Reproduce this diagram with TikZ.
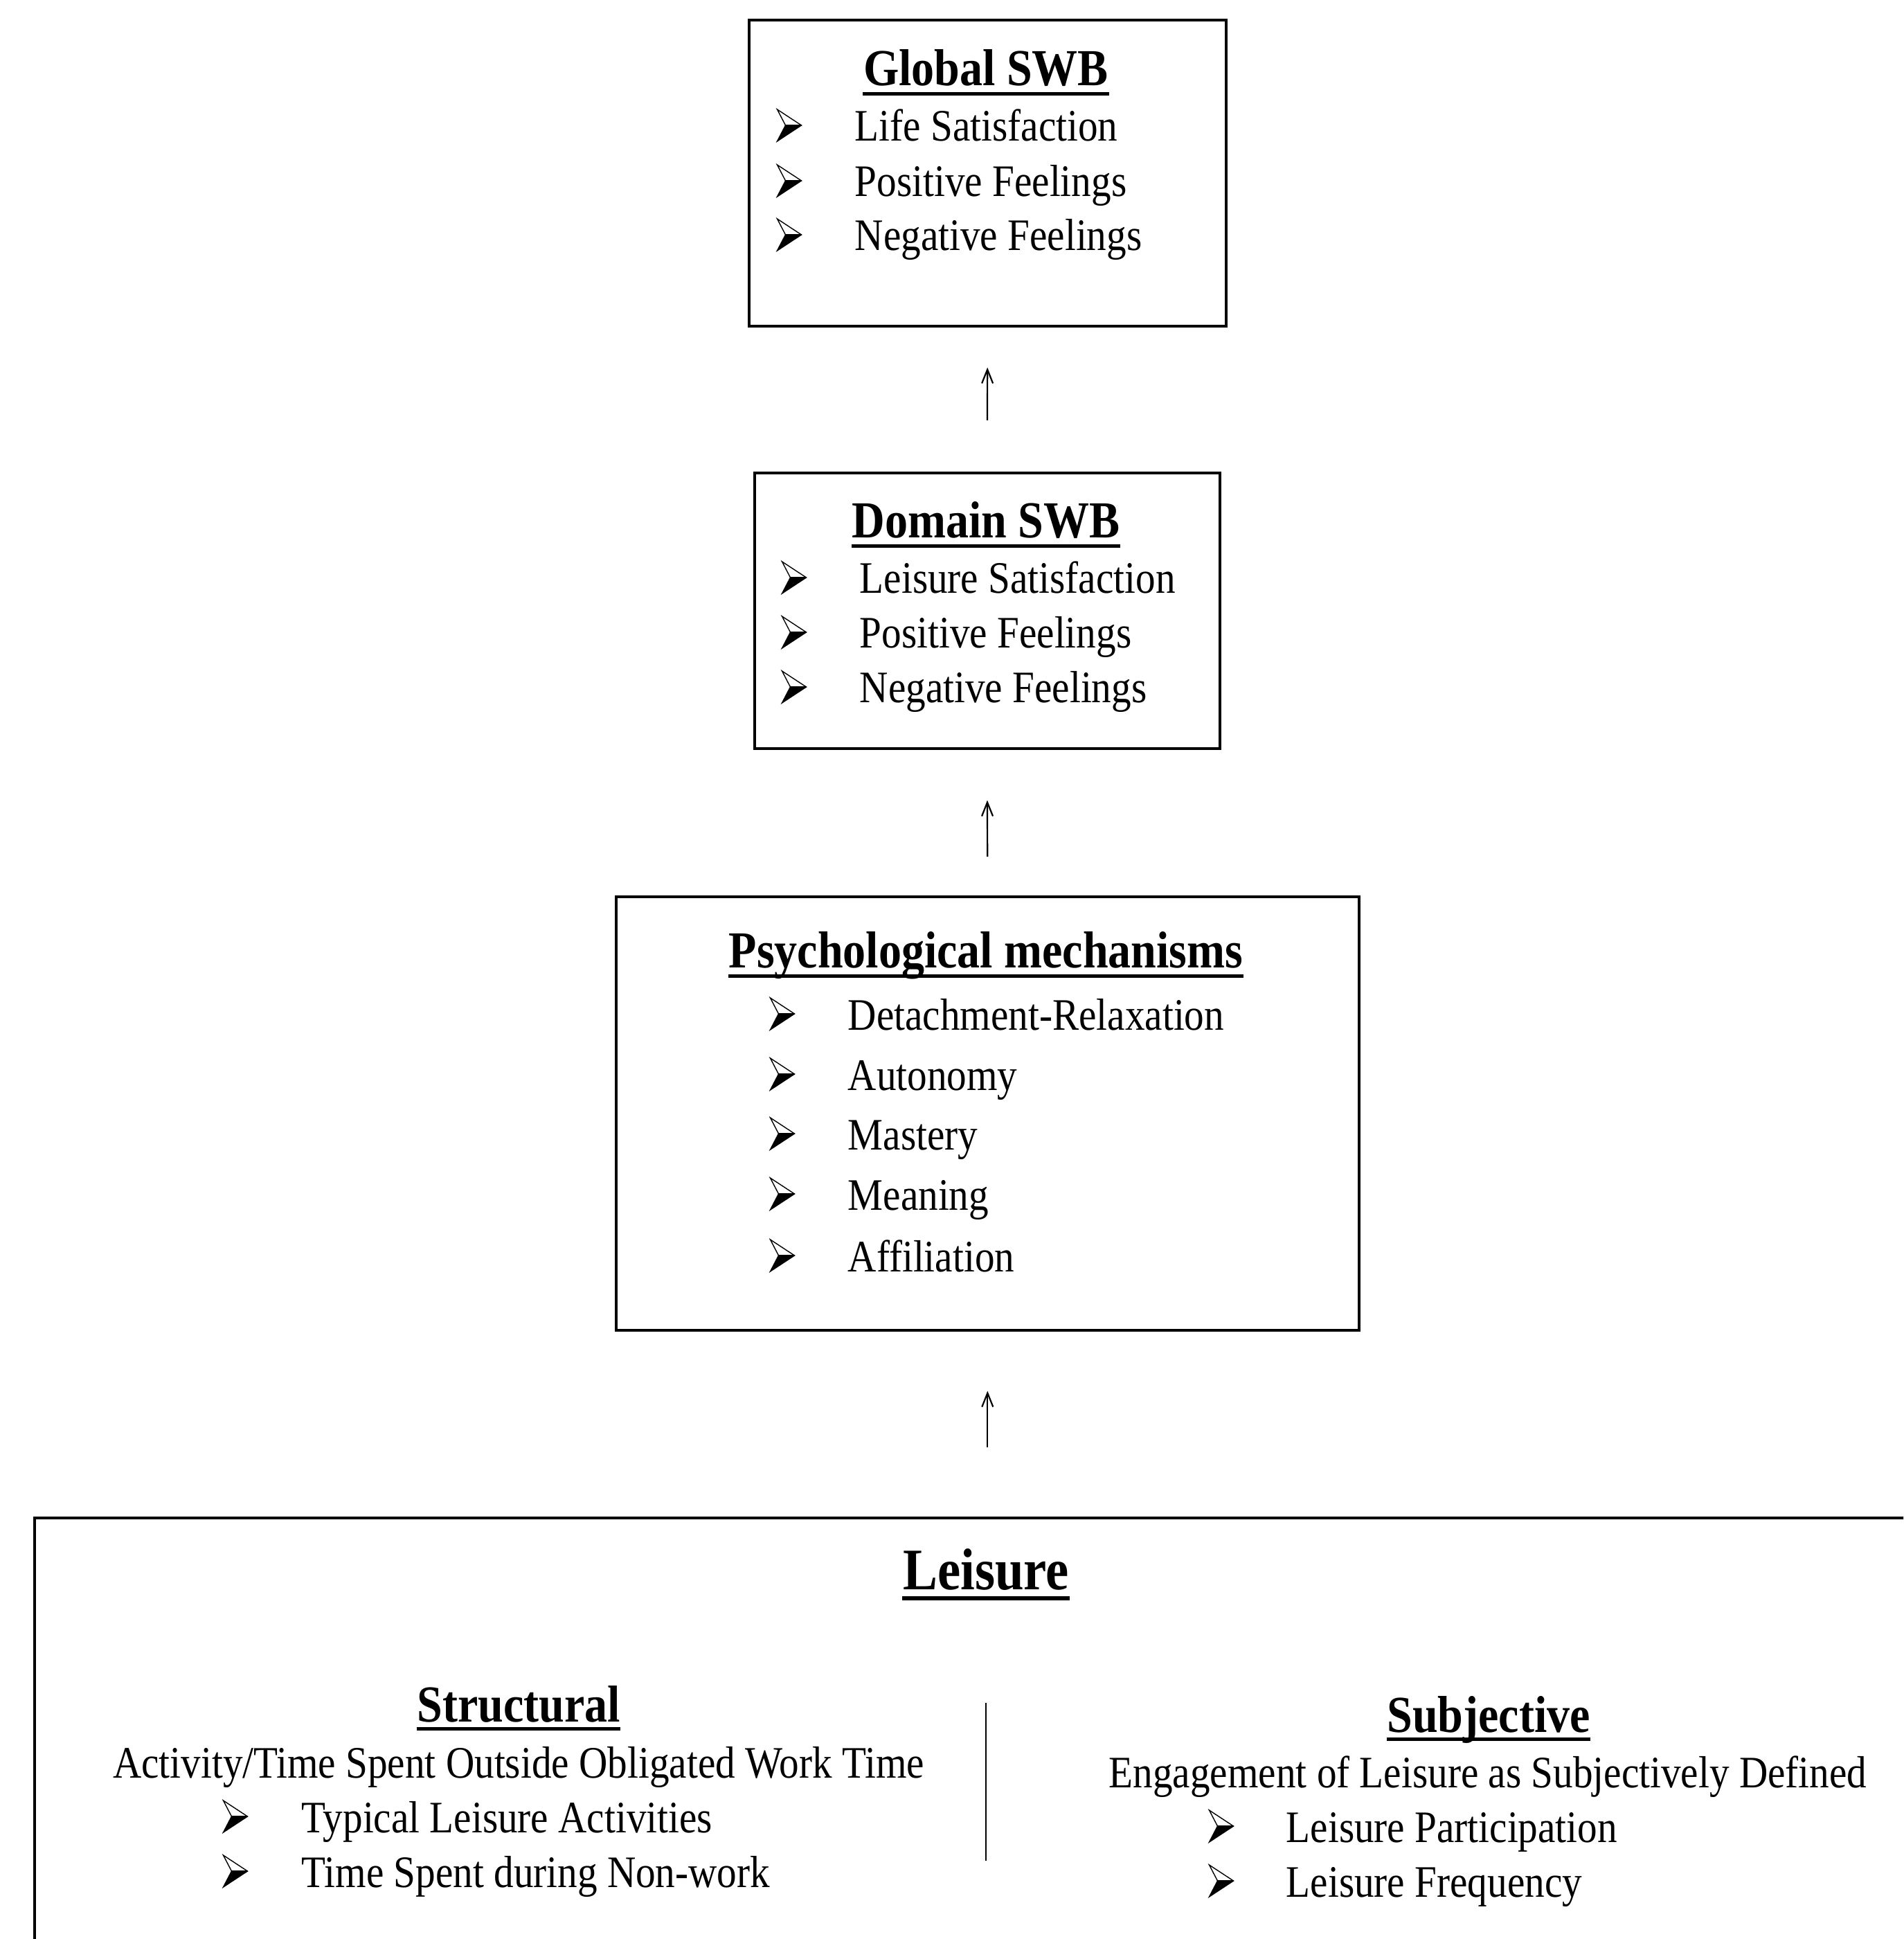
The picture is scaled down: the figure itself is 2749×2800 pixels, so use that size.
\documentclass[tikz,border=0pt]{standalone}
\usepackage{fontspec}
\setmainfont{Liberation Serif}[FakeStretch=0.88]
\usetikzlibrary{arrows.meta}
\begin{document}
\begin{tikzpicture}[x=0.25pt,y=-0.25pt,
  box/.style={draw, line width=0.9pt, rectangle, inner sep=0pt, anchor=north west},
  ttl/.style={font=\fontsize{18.75}{21}\selectfont\bfseries, inner sep=0pt, anchor=base},
  bigttl/.style={font=\fontsize{21.25}{24}\selectfont\bfseries, inner sep=0pt, anchor=base},
  itm/.style={font=\fontsize{16.25}{18}\selectfont, inner sep=0pt, anchor=base west},
  ctr/.style={font=\fontsize{16.25}{18}\selectfont, inner sep=0pt, anchor=base},
  ul/.style={line width=1.25pt},
  arr/.style={-{Straight Barb[length=5pt,width=4pt]}, line width=0.55pt},
  bul/.pic={
    \fill (-5.5,0) -- (17.5,0) -- (-17.5,23) -- cycle;
    \draw[line width=0.35pt, line join=miter] (-17.5,-23) -- (17.5,0) -- (-17.5,23) -- (-5.5,0) -- cycle;
    \draw[line width=0.35pt] (-5.5,0) -- (17.5,0);
  }]
\useasboundingbox (0,0) rectangle (2749,2800);
\fill[white] (0,0) rectangle (2749,2800);

% ---------- Global SWB ----------
\node[box, minimum width=172.25pt, minimum height=110.5pt] (global) at (1080,27) {};
\node[ttl] (gt) at (1424,124) {Global SWB};
\draw[ul] ([yshift=-2.8pt]gt.base west) -- ([yshift=-2.8pt]gt.base east);
\pic at (1140,181) {bul};
\node[itm] (g1) at (1234,204) {Life Satisfaction};
\pic at (1140,261) {bul};
\node[itm] (g2) at (1234,284) {Positive Feelings};
\pic at (1140,339) {bul};
\node[itm] (g3) at (1234,362) {Negative Feelings};

% ---------- Domain SWB ----------
\node[box, minimum width=168pt, minimum height=99.5pt] (domain) at (1088,681) {};
\node[ttl] (dt) at (1424,777) {Domain SWB};
\draw[ul] ([yshift=-3pt]dt.base west) -- ([yshift=-3pt]dt.base east);
\pic at (1147,834) {bul};
\node[itm] (d1) at (1241,857) {Leisure Satisfaction};
\pic at (1147,913) {bul};
\node[itm] (d2) at (1241,936) {Positive Feelings};
\pic at (1147,992) {bul};
\node[itm] (d3) at (1241,1015) {Negative Feelings};

% ---------- Psychological mechanisms ----------
\node[box, minimum width=268.25pt, minimum height=156.5pt] (psych) at (888,1293) {};
\node[ttl] (pt) at (1424,1397) {Psychological mechanisms};
\draw[ul] ([yshift=-3pt]pt.base west) -- ([yshift=-3pt]pt.base east);
\pic at (1130,1464) {bul};
\node[itm] (p1) at (1224,1487) {Detachment-Relaxation};
\pic at (1130,1551) {bul};
\node[itm] (p2) at (1224,1574) {Autonomy};
\pic at (1130,1637) {bul};
\node[itm] (p3) at (1224,1660) {Mastery};
\pic at (1130,1724) {bul};
\node[itm] (p4) at (1224,1747) {Meaning};
\pic at (1130,1813) {bul};
\node[itm] (p5) at (1224,1836) {Affiliation};

% ---------- Leisure ----------
\begin{scope}
\clip (0,0) rectangle (2749,2800);
\node[box, line width=1pt, minimum width=680pt, minimum height=170pt] (leisure) at (48,2190) {};
\end{scope}
\node[bigttl] (lt) at (1424,2295) {Leisure};
\draw[ul, line width=1.4pt] ([yshift=-3.2pt]lt.base west) -- ([yshift=-3.2pt]lt.base east);

\node[ttl] (st) at (749,2486) {Structural};
\draw[ul] ([yshift=-2.6pt]st.base west) -- ([yshift=-2.6pt]st.base east);
\node[ctr] (sd) at (749,2567) {Activity/Time Spent Outside Obligated Work Time};
\pic at (340,2623) {bul};
\node[itm] (s1) at (435,2646) {Typical Leisure Activities};
\pic at (340,2702) {bul};
\node[itm] (s2) at (435,2725) {Time Spent during Non-work};

\coordinate (divtop) at (1424,2459);
\coordinate (divbot) at (1424,2687);
\draw[line width=0.7pt] (divtop) -- (divbot);

\node[ttl] (jt) at (2150,2501) {Subjective};
\draw[ul] ([yshift=-2.6pt]jt.base west) -- ([yshift=-2.6pt]jt.base east);
\node[ctr] (jd) at (2149,2581) {Engagement of Leisure as Subjectively Defined};
\pic at (1764,2637) {bul};
\node[itm] (j1) at (1857,2660) {Leisure Participation};
\pic at (1764,2716) {bul};
\node[itm] (j2) at (1857,2739) {Leisure Frequency};

% ---------- arrows ----------
\draw[arr, shorten <=18.5pt, shorten >=14.5pt] (domain.north) -- (global.south);
\draw[arr, shorten <=14pt, shorten >=18.25pt] (psych.north) -- (domain.south);
\draw[arr, shorten <=25pt, shorten >=21.5pt] (psych.south |- leisure.north) -- (psych.south);
\end{tikzpicture}
\end{document}
